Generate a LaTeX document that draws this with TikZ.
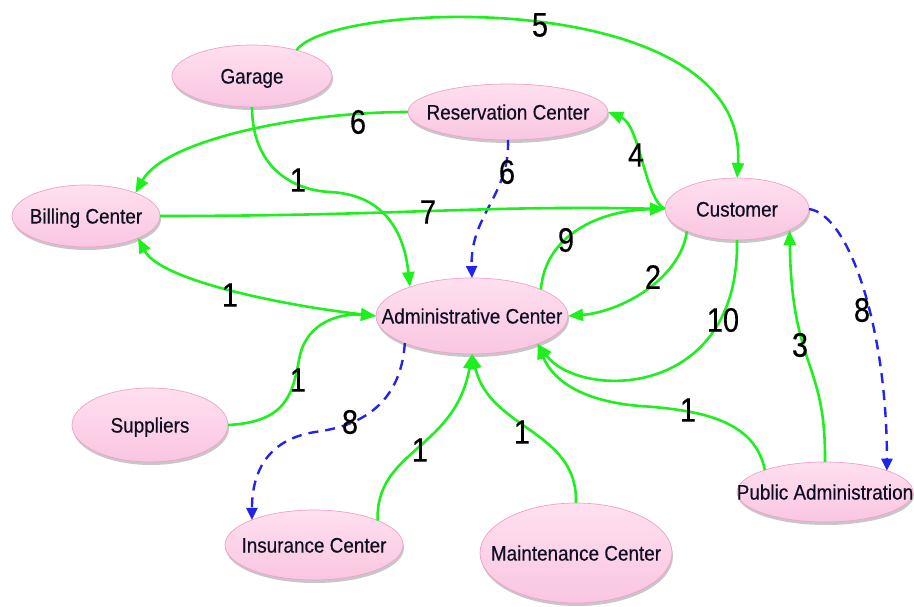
\documentclass[tikz,border=0pt]{standalone}
\usepackage{fontspec}
\setmainfont{Liberation Sans}
\newfontfamily\nodefont{Liberation Sans}[FakeStretch=0.9,FakeBold=0.4]
\newfontfamily\numfont{Liberation Sans}[FakeStretch=0.85,FakeBold=0.3]
\usetikzlibrary{shapes.geometric,arrows.meta,shadows}

\definecolor{pinktop}{RGB}{255,224,239}
\definecolor{pinkbot}{RGB}{249,198,225}
\definecolor{pinkedge}{RGB}{240,160,202}
\definecolor{labelink}{RGB}{15,15,35}
\definecolor{flowgreen}{RGB}{30,240,30}
\definecolor{flowblue}{RGB}{35,35,235}

% label of zero size, so that the ellipse keeps exactly its minimum size
\newcommand\conceptlabel[1]{\raisebox{-0.36em}[0pt][0pt]{\makebox[0pt]{#1}}}

\tikzset{
  concept/.style={ellipse, draw=pinkedge, line width=0.7pt,
    top color=pinktop, bottom color=pinkbot, inner sep=0pt, outer sep=0pt,
    text=labelink, font=\nodefont\fontsize{21}{24}\selectfont,
    drop shadow={shadow xshift=1pt, shadow yshift=-3pt, opacity=0.22, fill=black}},
  flow/.style={draw=flowgreen, line width=2.6pt,
    -{Triangle[length=15pt,width=12pt]}},
  flowboth/.style={draw=flowgreen, line width=2.6pt,
    {Triangle[length=15pt,width=12pt]}-{Triangle[length=15pt,width=12pt]}},
  info/.style={draw=flowblue, line width=2.4pt, dash pattern=on 10pt off 7pt,
    -{Triangle[length=12pt,width=11pt]}},
  num/.style={font=\numfont\fontsize{34}{36}\selectfont, text=black, inner sep=0pt}
}

\begin{document}
\begin{tikzpicture}[x=1pt,y=-1pt]
\useasboundingbox (0,0) rectangle (914,607);
\fill[white] (0,0) rectangle (914,607);

% actors of the system
\node[concept, minimum width=160pt, minimum height=62pt] (gar) at (252,76) {\conceptlabel{Garage}};
\node[concept, minimum width=200pt, minimum height=56pt] (res) at (508,112) {\conceptlabel{Reservation Center}};
\node[concept, minimum width=148pt, minimum height=62pt] (bil) at (86,216) {\conceptlabel{Billing Center}};
\node[concept, minimum width=144pt, minimum height=62pt] (cus) at (737,209) {\conceptlabel{Customer}};
\node[concept, minimum width=192pt, minimum height=76pt] (adm) at (472,316) {\conceptlabel{Administrative Center}};
\node[concept, minimum width=156pt, minimum height=74pt] (sup) at (150,425) {\conceptlabel{Suppliers}};
\node[concept, minimum width=178pt, minimum height=70pt] (ins) at (314,545) {\conceptlabel{Insurance Center}};
\node[concept, minimum width=192pt, minimum height=100pt] (mai) at (576,553) {\conceptlabel{Maintenance Center}};
\node[concept, minimum width=176pt, minimum height=60pt] (pub) at (825,492) {\conceptlabel{Public Administration}};

% flows between actors
\draw[flow] (gar.30) .. controls (330,0) and (750,-15) .. (cus.north);
\draw[flow] (res.west) .. controls (300,112) and (165,140) .. (bil.25);
\draw[info] (res.south) .. controls (510,195) and (470,215) .. (adm.north);
\draw[flow] (cus.west) .. controls (645,200) and (640,125) .. (res.east);
\draw[flow] (gar.south) .. controls (252,165) and (290,190) .. (330,192)
            .. controls (390,195) and (405,240) .. (adm.155);
\draw[flow] (bil.east) .. controls (400,216) and (480,205) .. (cus.west);
\draw[flowboth] (bil.-23) .. controls (160,280) and (280,305) .. (adm.west);
\draw[flow] (adm.21) .. controls (545,235) and (600,210) .. (cus.west);
\draw[flow] (cus.-156) .. controls (680,280) and (620,312) .. (adm.east);
\draw[flow] (cus.south) .. controls (740,400) and (580,400) .. (adm.-23);
\draw[flow] (pub.160) .. controls (755,420) and (700,410) .. (640,406)
            .. controls (590,402) and (555,385) .. (adm.-23);
\draw[flow] (pub.north) .. controls (826,360) and (792,370) .. (cus.-22);
\draw[info] (cus.east) .. controls (850,215) and (887,330) .. (pub.19);
\draw[info] (adm.-158) .. controls (400,415) and (345,428) .. (315,432)
            .. controls (265,440) and (252,475) .. (ins.158);
\draw[flow] (sup.east) .. controls (290,422) and (293,390) .. (300,355)
            .. controls (308,322) and (340,313) .. (adm.west);
\draw[flow] (ins.21) .. controls (375,450) and (455,450) .. (adm.south);
\draw[flow] (mai.north) .. controls (578,430) and (490,430) .. (adm.south);

% flow numbers
\node[num] (n5)  at (540,25)  {5};
\node[num] (n6a) at (358,122) {6};
\node[num] (n6b) at (507,172) {6};
\node[num] (n4)  at (636,155) {4};
\node[num] (n1a) at (298,180) {1};
\node[num] (n7)  at (428,212) {7};
\node[num] (n9)  at (566,240) {9};
\node[num] (n1b) at (230,295) {1};
\node[num] (n2)  at (653,277) {2};
\node[num] (n10) at (723,320) {10};
\node[num] (n8a) at (862,310) {8};
\node[num] (n3)  at (800,345) {3};
\node[num] (n1c) at (298,380) {1};
\node[num] (n8b) at (350,422) {8};
\node[num] (n1d) at (420,450) {1};
\node[num] (n1e) at (522,432) {1};
\node[num] (n1f) at (688,410) {1};
\end{tikzpicture}
\end{document}
